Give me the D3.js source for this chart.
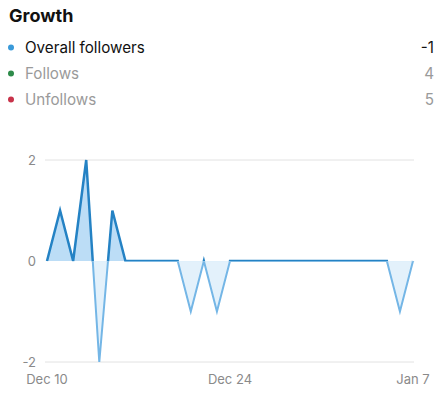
<!DOCTYPE html>
<html>
<head>
<meta charset="utf-8">
<script src="https://cdn.jsdelivr.net/npm/d3@7"></script>
<style>
  body { margin: 0; background: #fff; font-family: Inter, "Noto Sans", sans-serif; }
</style>
</head>
<body>
<svg id="chart" width="440" height="397"></svg>
<script>
//DATA
var startDate = "2019-12-10";
var dailyChange = [0, 1, 0, 2, -2, 1, 0, 0, 0, 0, 0, -1, 0, -1, 0,
                   0, 0, 0, 0, 0, 0, 0, 0, 0, 0, 0, 0, -1, 0];
var legendLabels = ["Overall followers", "Follows", "Unfollows"];
var legendValues = ["-1", "4", "5"];
var legendColors = ["#3a9ad9", "#2e8b4a", "#c8334a"];
var yTicks = [-2, 0, 2];
var xTickDates = ["2019-12-10", "2019-12-24", "2020-01-07"];

var parse = d3.utcParse("%Y-%m-%d");
var t0 = parse(startDate);
var data = dailyChange.map((v, i) => ({date: d3.utcDay.offset(t0, i), value: v}));

var svg = d3.select("#chart");

//TITLE + LEGEND
svg.append("text")
  .attr("x", 9).attr("y", 22)
  .style("font-size", "18px").style("font-weight", 700).style("fill", "#111")
  .text("Growth");

var legend = svg.selectAll("g.legend").data(legendLabels).enter().append("g")
  .attr("class", "legend")
  .attr("transform", (d, i) => "translate(0," + (47.5 + i * 26) + ")");

legend.append("circle")
  .attr("cx", 11).attr("cy", 0).attr("r", 3)
  .style("fill", (d, i) => legendColors[i]);

legend.append("text")
  .attr("x", 25).attr("y", 0).attr("dy", "0.35em")
  .style("font-size", "15.2px")
  .style("fill", (d, i) => i == 0 ? "#111" : "#9a9a9a")
  .text(d => d);

legend.append("text")
  .attr("x", 434).attr("y", 0).attr("dy", "0.35em")
  .attr("text-anchor", "end")
  .style("font-size", "15.2px")
  .style("fill", (d, i) => i == 0 ? "#111" : "#9a9a9a")
  .text((d, i) => legendValues[i]);

//SCALES
var x = d3.scaleUtc().domain(d3.extent(data, d => d.date)).range([47, 413]);
var y = d3.scaleLinear().domain([-2, 2]).range([362, 160]);

//GRID + AXES
svg.selectAll("line.grid").data([-2, 2]).enter().append("line")
  .attr("class", "grid")
  .attr("x1", 45).attr("x2", 414)
  .attr("y1", d => y(d)).attr("y2", d => y(d))
  .style("stroke", "#e2e2e2").style("stroke-width", 1);

svg.selectAll("text.ytick").data(yTicks).enter().append("text")
  .attr("class", "ytick")
  .attr("x", 36).attr("y", d => y(d)).attr("dy", "0.35em")
  .attr("text-anchor", "end")
  .style("font-size", "13px").style("fill", "#8a8a8a")
  .text(d => d < 0 ? "-" + Math.abs(d) : d);

var fmt = d3.utcFormat("%b %-d");
svg.selectAll("text.xtick").data(xTickDates.map(parse)).enter().append("text")
  .attr("class", "xtick")
  .attr("x", d => x(d)).attr("y", 379).attr("dy", "0.35em")
  .attr("text-anchor", "middle")
  .style("font-size", "13px").style("fill", "#8a8a8a")
  .text(d => fmt(d));

//CLIPS above/below zero
var defs = svg.append("defs");
defs.append("clipPath").attr("id", "above")
  .append("rect").attr("x", 0).attr("y", 0).attr("width", 440).attr("height", y(0) + 0.6);
defs.append("clipPath").attr("id", "below")
  .append("rect").attr("x", 0).attr("y", y(0) + 0.6).attr("width", 440).attr("height", 397);

var area = d3.area().x(d => x(d.date)).y0(y(0)).y1(d => y(d.value));
var line = d3.line().x(d => x(d.date)).y(d => y(d.value));

var up = svg.append("g").attr("clip-path", "url(#above)");
up.append("path").datum(data).attr("d", area).style("fill", "#bcddf6");
up.append("path").datum(data).attr("d", line)
  .style("fill", "none").style("stroke", "#2482c4").style("stroke-width", 2.5)
  .style("stroke-linejoin", "miter");

var down = svg.append("g").attr("clip-path", "url(#below)");
down.append("path").datum(data).attr("d", area).style("fill", "#e3f1fb");
down.append("path").datum(data).attr("d", line)
  .style("fill", "none").style("stroke", "#74b6e6").style("stroke-width", 2)
  .style("stroke-linejoin", "miter");
</script>
</body>
</html>
